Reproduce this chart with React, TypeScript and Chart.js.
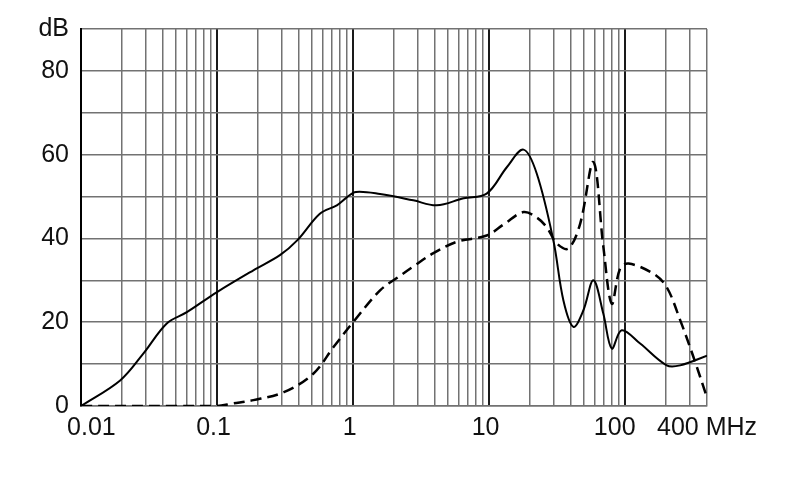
import React, { useEffect, useRef } from "react";
import { Chart, registerables } from "chart.js";

Chart.register(...registerables);

// Frequency in MHz, level in dB
const solidFreq = [0.01, 0.0194, 0.0287, 0.0427, 0.06, 0.1, 0.185, 0.29, 0.39, 0.57, 0.76, 0.9, 1.05, 1.58, 2.77, 4.12, 6.5, 9.6, 13.5, 17.9, 22.4, 29.7, 35.2, 41.7, 49.3, 58.5, 69.2, 79.8, 94.4, 129, 202, 254, 400];
const solidDb = [0, 6.1, 12.5, 19.7, 22.4, 27.2, 32.4, 36, 39.6, 45.9, 47.9, 49.8, 51.1, 50.6, 49.1, 47.9, 49.6, 50.7, 57, 61.2, 55.5, 39.5, 25.2, 18.9, 22.8, 30, 22, 13.7, 18.1, 14.9, 9.7, 9.7, 12];

const dashFreq = [0.01, 0.05, 0.1, 0.13, 0.185, 0.31, 0.51, 0.716, 1, 1.58, 2.2, 2.86, 3.9, 5.78, 9.6, 13, 17.9, 22.4, 26.5, 31.5, 38.3, 46.7, 58.5, 69.2, 79.8, 91.8, 106, 161, 202, 254, 318, 400];
const dashDb = [0, 0, 0, 0.6, 1.4, 3.3, 7.7, 14, 20, 27.6, 31, 33.6, 36.5, 39.2, 40.7, 43.5, 46.3, 45, 42.7, 38.8, 37.6, 43.5, 58.2, 38, 24.4, 32.8, 34, 31.6, 28.4, 20.5, 11.7, 2];

const xGridValues = [
  0.01, 0.02, 0.03, 0.04, 0.05, 0.06, 0.07, 0.08, 0.09,
  0.1, 0.2, 0.3, 0.4, 0.5, 0.6, 0.7, 0.8, 0.9,
  1, 2, 3, 4, 5, 6, 7, 8, 9,
  10, 20, 30, 40, 50, 60, 70, 80, 90,
  100, 200, 300, 400,
];
const xMajorValues = [0.1, 1, 10, 100];
const xLabelValues = [0.01, 0.1, 1, 10, 100, 400];
const xLabels = ["   0.01", "0.1 ", "1 ", "10 ", "100   ", "400 MHz"];

const yLabelValues = [0, 20, 40, 60, 80, 90];
const yLabels = ["0", "20", "40", "60", "80", "dB"];

const near = (a: number, b: number) => Math.abs(a - b) / b < 1e-6;

export default function App() {
  const ref = useRef<HTMLCanvasElement | null>(null);

  useEffect(() => {
    if (!ref.current) return;
    const font = { family: "'Liberation Sans', Arial, sans-serif", size: 25 };
    const chart = new Chart(ref.current, {
      type: "line",
      data: {
        datasets: [
          {
            data: solidFreq.map((f, i) => ({ x: f, y: solidDb[i] })),
            borderColor: "#000",
            borderWidth: 2,
            pointRadius: 0,
            tension: 0.35,
            fill: false,
          },
          {
            data: dashFreq.map((f, i) => ({ x: f, y: dashDb[i] })),
            borderColor: "#000",
            borderWidth: 2.5,
            borderDash: [11, 6],
            pointRadius: 0,
            tension: 0.35,
            fill: false,
          },
        ],
      },
      options: {
        responsive: false,
        animation: false,
        layout: { padding: { left: 0, right: 83, top: 29, bottom: 0 } },
        plugins: { legend: { display: false }, tooltip: { enabled: false } },
        scales: {
          x: {
            type: "logarithmic",
            min: 0.01,
            max: 400,
            afterBuildTicks: (scale: any) => {
              scale.ticks = xGridValues.map((v) => ({ value: v }));
            },
            afterFit: (scale: any) => {
              scale.height = 93;
            },
            ticks: {
              autoSkip: false,
              maxRotation: 0,
              minRotation: 0,
              padding: 7,
              color: "#111",
              font,
              callback: (value: any) => {
                const idx = xLabelValues.findIndex((v) => near(Number(value), v));
                return idx >= 0 ? xLabels[idx] : "";
              },
            },
            grid: {
              drawTicks: false,
              color: (ctx: any) =>
                ctx.tick && xMajorValues.some((v) => near(ctx.tick.value, v)) ? "#1a1a1a" : "#727272",
              lineWidth: (ctx: any) =>
                ctx.tick && xMajorValues.some((v) => near(ctx.tick.value, v)) ? 2 : 1.5,
            },
            border: { color: "#727272", width: 1.5 },
          },
          y: {
            type: "linear",
            min: 0,
            max: 90,
            afterBuildTicks: (scale: any) => {
              const t = [];
              for (let v = 0; v <= 90; v += 10) t.push({ value: v });
              scale.ticks = t;
            },
            afterFit: (scale: any) => {
              scale.width = 81;
            },
            ticks: {
              padding: 12,
              color: "#111",
              font,
              callback: (value: any) => {
                const idx = yLabelValues.indexOf(Number(value));
                return idx >= 0 ? yLabels[idx] : "";
              },
            },
            grid: {
              drawTicks: false,
              color: "#727272",
              lineWidth: 1.5,
            },
            border: { color: "#000", width: 2 },
          },
        },
      },
    });
    return () => chart.destroy();
  }, []);

  return (
    <div style={{ position: "absolute", left: 0, top: 0, width: 790, height: 499, background: "#fff" }}>
      <canvas ref={ref} width={790} height={499} style={{ width: 790, height: 499 }} />
    </div>
  );
}
